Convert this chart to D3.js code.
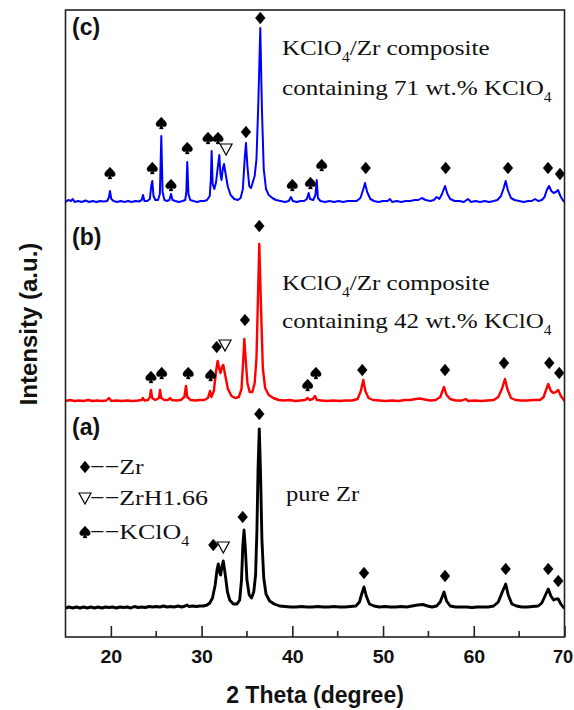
<!DOCTYPE html>
<html><head><meta charset="utf-8">
<script src="https://cdn.jsdelivr.net/npm/d3@7"></script>
<style>body{margin:0;background:#fff;} svg{display:block;}</style>
</head><body><svg id="chart" width="574" height="710"></svg>
<script>
// ---------- DATA (2θ in degrees, intensity in a.u.) ----------
const patternA = [[15.0,2],[15.4,3],[15.8,2],[16.2,3],[16.6,2],[17.0,3],[17.4,2],[17.8,3],[18.2,2],[18.6,3],[19.0,2],[19.4,3],[19.8,2.5],[20.2,3],[20.6,2],[21.0,3],[21.4,2.5],[21.8,3],[22.2,2],[22.6,3.5],[23.0,2.5],[23.4,3],[23.8,2.5],[24.2,3.5],[24.6,3],[25.0,3.5],[25.4,3],[25.8,4],[26.2,3],[26.6,3.5],[27.0,3],[27.4,4],[27.8,3],[28.2,4],[28.4,5],[28.6,3.5],[29.0,4],[29.4,3.5],[29.8,4],[30.2,4],[30.6,5],[30.9,7],[31.2,12],[31.5,25],[31.7,40],[31.84,46],[31.98,38],[32.1,35],[32.25,44],[32.39,49],[32.6,36],[32.85,18],[33.1,10],[33.5,6],[33.9,6],[34.2,10],[34.4,30],[34.55,65],[34.68,80],[34.82,62],[35.0,30],[35.25,15],[35.5,12],[35.75,18],[35.95,35],[36.1,80],[36.22,140],[36.36,181],[36.5,135],[36.65,70],[36.85,32],[37.1,16],[37.5,9],[38.0,6],[38.6,4],[39.2,3.5],[39.8,3],[40.4,3],[41.0,3.5],[41.6,3],[42.2,3],[42.8,3.5],[43.4,3],[44.0,3],[44.6,3.5],[45.2,3],[45.8,3],[46.4,3.5],[47.0,4],[47.4,8],[47.65,16],[47.9,23],[48.15,14],[48.5,6],[49.0,4],[49.6,3],[50.2,3.5],[50.8,3],[51.4,3],[52.0,3.5],[52.6,3],[53.2,4],[53.8,5],[54.4,5.5],[54.9,4],[55.4,3],[55.9,4],[56.3,8],[56.72,18],[57.0,9],[57.4,4],[58.0,3],[58.6,3],[59.2,3],[59.8,2.5],[60.4,3],[61.0,3],[61.6,3],[62.2,4],[62.7,8],[63.1,17],[63.52,26],[63.8,15],[64.2,6],[64.7,4],[65.3,3],[65.9,3],[66.5,3.5],[67.1,4],[67.5,7],[67.9,15],[68.21,21],[68.5,14],[68.8,10],[69.05,11],[69.31,11],[69.6,6],[69.85,3],[70.0,2]];

const patternB = [[15.0,2],[15.5,3],[16.0,2],[16.5,2.5],[17.0,2],[17.5,3],[18.0,2],[18.5,2.5],[19.0,2],[19.5,2.5],[19.79,5],[20.05,2],[20.6,2.5],[21.2,2],[21.8,2.5],[22.4,2],[23.0,2.5],[23.4,3],[23.54,5],[23.7,2.5],[24.1,3],[24.3,6],[24.42,13],[24.55,5],[24.9,3],[25.3,5],[25.42,13],[25.55,5],[25.9,3],[26.3,3],[26.52,5],[26.7,3],[27.2,2.5],[27.7,3],[28.1,6],[28.28,17],[28.42,6],[28.8,3],[29.3,2.5],[29.8,3],[30.3,3],[30.7,5],[30.93,12],[31.08,6],[31.35,12],[31.6,32],[31.77,42],[31.95,34],[32.08,30],[32.25,36],[32.39,38],[32.6,28],[32.9,14],[33.3,7],[33.7,5],[34.1,6],[34.4,14],[34.6,45],[34.71,64],[34.85,45],[35.05,20],[35.3,11],[35.6,11],[35.85,20],[36.05,45],[36.2,100],[36.36,159],[36.55,95],[36.75,35],[37.0,15],[37.4,8],[37.9,5],[38.5,3],[39.1,2.5],[39.7,3],[40.3,2],[40.9,2.5],[41.4,3],[41.69,5],[41.9,3],[42.25,4],[42.5,7],[42.7,3],[43.2,2.5],[43.8,2],[44.5,2.5],[45.2,2],[45.9,2.5],[46.6,2.5],[47.2,4],[47.55,12],[47.82,23],[48.05,12],[48.4,5],[48.9,3],[49.6,2.5],[50.3,2],[51.0,2.5],[51.7,2],[52.4,3],[53.0,3],[53.6,4],[54.07,4.5],[54.6,3.5],[55.2,2.5],[55.8,3],[56.3,6],[56.72,16],[57.0,8],[57.4,4],[58.0,2.5],[58.7,2.5],[59.11,4],[59.4,2],[60.1,2.5],[60.8,2],[61.5,2.5],[62.2,3],[62.7,6],[63.1,14],[63.44,24],[63.7,14],[64.1,5],[64.6,3],[65.2,2.5],[65.9,2.5],[66.6,3],[67.3,3],[67.7,6],[68.0,14],[68.21,19],[68.5,12],[68.8,10],[69.05,11],[69.31,13],[69.6,7],[69.85,4],[70.0,2]];

const patternC = [[15.0,2],[15.3,4],[15.6,3],[15.8,5],[16.0,2],[16.4,3],[16.8,2],[17.2,3.5],[17.6,2],[18.0,3],[18.4,2],[18.8,3],[19.2,2.5],[19.6,3],[19.8,7],[19.9,13],[20.05,5],[20.3,3],[20.7,2],[21.1,3],[21.5,2],[21.9,3],[22.3,2],[22.7,3],[23.1,2.5],[23.4,4],[23.54,9],[23.7,3],[24.0,3],[24.3,5],[24.45,18],[24.57,23],[24.7,8],[24.9,4],[25.2,4],[25.4,10],[25.56,68],[25.7,12],[25.9,4],[26.2,3],[26.45,4],[26.63,10],[26.8,4],[27.1,3],[27.5,2],[27.9,3],[28.2,4],[28.32,12],[28.42,42],[28.55,10],[28.75,4],[29.1,3],[29.5,2],[29.9,3],[30.3,3],[30.6,4],[30.9,8],[31.02,25],[31.11,53],[31.22,20],[31.4,15],[31.6,22],[31.8,38],[31.95,49],[32.08,30],[32.2,24],[32.35,36],[32.47,40],[32.65,30],[32.9,17],[33.2,9],[33.6,5],[34.0,4],[34.3,6],[34.55,15],[34.75,45],[34.89,61],[35.05,38],[35.25,18],[35.45,16],[35.65,22],[35.85,28],[36.05,45],[36.25,100],[36.47,176],[36.65,95],[36.85,35],[37.1,15],[37.4,9],[37.8,6],[38.2,4],[38.7,3],[39.2,2],[39.6,3],[39.85,7],[40.05,3],[40.5,2],[40.9,3],[41.3,3],[41.6,5],[41.8,11],[41.95,5],[42.3,4],[42.55,9],[42.69,24],[42.82,6],[43.1,3],[43.6,2],[44.1,3],[44.6,2],[45.1,3],[45.6,2],[46.1,3],[46.6,3],[47.1,3],[47.5,6],[47.8,14],[48.01,21],[48.25,12],[48.6,5],[49.0,3],[49.5,2],[50.0,3],[50.5,3],[50.76,5],[51.0,2],[51.5,3],[52.0,2],[52.5,3],[53.0,3],[53.5,4],[53.9,4],[54.26,6],[54.7,4],[55.2,3],[55.6,4],[55.91,7],[56.2,5],[56.5,10],[56.83,18],[57.1,10],[57.4,5],[57.9,3],[58.4,3],[58.9,2],[59.36,5],[59.7,2],[60.2,3],[60.7,2],[61.2,3],[61.7,2],[62.2,3],[62.6,4],[63.0,8],[63.3,16],[63.52,23],[63.75,14],[64.1,6],[64.5,4],[65.0,3],[65.5,2],[66.0,3],[66.4,3],[66.75,5],[67.1,3],[67.5,4],[67.8,7],[68.05,14],[68.29,18],[68.55,13],[68.8,11],[69.05,12],[69.28,14],[69.55,8],[69.8,4],[70.0,2]];

// phase markers: [phase, 2θ, intensity level]
const markersA = [["Zr",31.29,65],["ZrH",32.39,63],["Zr",34.53,93],["Zr",36.36,196],["Zr",47.9,37],["Zr",56.83,34],["Zr",63.52,41],["Zr",68.21,41],["Zr",69.31,29]];
const markersB = [["K",24.42,26],["K",25.6,30],["K",28.53,30],["K",31.0,28],["Zr",31.66,56],["ZrH",32.58,58],["Zr",34.78,83],["Zr",36.36,177],["K",41.69,18],["K",42.6,30],["Zr",47.71,33],["Zr",56.83,33],["Zr",63.33,40],["Zr",68.32,40],["Zr",69.42,30]];
const markersC = [["K",19.9,31],["K",24.57,36],["K",25.56,81],["K",26.63,19],["K",28.42,56],["K",30.71,66],["K",31.81,66],["ZrH",32.7,55],["Zr",34.89,72],["Zr",36.47,186],["K",40.0,19],["K",42.0,21],["K",43.24,39],["Zr",48.09,36],["Zr",56.9,36],["Zr",63.77,36],["Zr",68.18,36],["Zr",69.5,30]];

const xTicks = [20,30,40,50,60,70];
const xMinorTicks = [25,35,45,55,65];
const legendItems = [["Zr","Zr"],["ZrH","ZrH1.66"],["K","KClO"]];

// ---------- LAYOUT ----------
const svg = d3.select("#chart");
const L = 65.5, R = 564.5, T = 10, B = 637;
const x = d3.scaleLinear().domain([15,70]).range([L,R]);
const y = d3.scaleLinear().domain([0,627]).range([B,T]);
const SANS = "'Liberation Sans', Arial, sans-serif";
const SERIF = "'Liberation Serif', 'Times New Roman', serif";

const series = [
  {data: patternA, offset: 27, color: "#000000", width: 2.9, markers: markersA},
  {data: patternB, offset: 234, color: "#ff0000", width: 2.4, markers: markersB},
  {data: patternC, offset: 433, color: "#0000ff", width: 2.0, markers: markersC}
];

svg.append("clipPath").attr("id","clip").append("rect")
  .attr("x",L).attr("y",T).attr("width",R-L).attr("height",B-T);

const line = d3.line().curve(d3.curveLinear);
series.forEach(s => {
  svg.append("path")
    .attr("clip-path","url(#clip)")
    .attr("fill","none").attr("stroke",s.color).attr("stroke-width",s.width)
    .attr("stroke-linejoin","round")
    .attr("d", line(s.data.map(d => [x(d[0]), y(s.offset + d[1])])));
});

// marker shapes
const diamond = {draw(c){c.moveTo(0,-6);c.lineTo(5,0);c.lineTo(0,6);c.lineTo(-5,0);c.closePath();}};
const triDown = {draw(c){c.moveTo(-6,-5);c.lineTo(6,-5);c.lineTo(0,6);c.closePath();}};
const spade = {draw(c){
  c.moveTo(0,-6);
  c.bezierCurveTo(2,-3,6.2,-1,5.2,2);
  c.bezierCurveTo(4.5,4.2,2,4.2,0.9,2.4);
  c.lineTo(2,6);c.lineTo(-2,6);c.lineTo(-0.9,2.4);
  c.bezierCurveTo(-2,4.2,-4.5,4.2,-5.2,2);
  c.bezierCurveTo(-6.2,-1,-2,-3,0,-6);
  c.closePath();}};
const shapeOf = {Zr: diamond, ZrH: triDown, K: spade};
function drawMarker(g, type, cx, cy){
  g.append("path")
    .attr("transform",`translate(${cx},${cy})`)
    .attr("d", d3.symbol().type(shapeOf[type])())
    .attr("fill", type === "ZrH" ? "#fff" : "#000")
    .attr("stroke","#000").attr("stroke-width", type === "ZrH" ? 1.2 : 0.3);
}
const mg = svg.append("g");
series.forEach(s => s.markers.forEach(m => drawMarker(mg, m[0], x(m[1]), y(s.offset + m[2]))));

// frame
svg.append("rect").attr("x",L).attr("y",T).attr("width",R-L).attr("height",B-T)
  .attr("fill","none").attr("stroke","#222").attr("stroke-width",1.6);

// x axis (ticks inward)
const axis = svg.append("g").attr("transform",`translate(0,${B})`)
  .call(d3.axisBottom(x).tickValues(xTicks).tickSize(-11).tickPadding(0).tickFormat(d3.format("d")));
axis.select(".domain").remove();
axis.selectAll(".tick line").attr("stroke","#222").attr("stroke-width",1.6);
axis.selectAll(".tick text").remove();
axis.selectAll(".tick").append("text")
  .attr("y",26).attr("text-anchor","middle")
  .attr("transform",(d,i,n) => i === n.length - 1 ? "translate(-2,0) scale(1.04,1)" : "scale(1.12,1)")
  .attr("font-family",SANS).attr("font-weight","bold").attr("font-size",17.5).attr("fill","#111")
  .text(d => d);
svg.append("g").selectAll("line").data(xMinorTicks).join("line")
  .attr("x1",d=>x(d)).attr("x2",d=>x(d)).attr("y1",B).attr("y2",B-6)
  .attr("stroke","#222").attr("stroke-width",1.6);

// axis titles
svg.append("text").attr("x",x(42.5)).attr("y",703).attr("text-anchor","middle")
  .attr("font-family",SANS).attr("font-weight","bold").attr("font-size",23).attr("fill","#111")
  .text("2 Theta (degree)");
svg.append("text").attr("transform","translate(37,324) rotate(-90)").attr("text-anchor","middle")
  .attr("font-family",SANS).attr("font-weight","bold").attr("font-size",24).attr("fill","#111")
  .text("Intensity (a.u.)");

// panel labels
[["(c)",35],["(b)",245],["(a)",435]].forEach(p => {
  svg.append("text").attr("x",72).attr("y",p[1])
    .attr("font-family",SANS).attr("font-weight","bold").attr("font-size",23).attr("fill","#111")
    .text(p[0]);
});

// serif annotations with subscripts
function serifText(px, py, parts, size, sx){
  const t = svg.append("text").attr("transform",`translate(${px},${py}) scale(${sx},1)`)
    .attr("font-family",SERIF).attr("font-size",size).attr("fill","#111");
  parts.forEach(p => {
    if (p.sub) t.append("tspan").attr("dy",7).attr("font-size",size*0.62).text(p.t);
    else if (p.after) t.append("tspan").attr("dy",-7).text(p.t);
    else t.append("tspan").text(p.t);
  });
  return t;
}
serifText(282, 55, [{t:"KClO"},{t:"4",sub:true},{t:"/Zr composite",after:true}], 22, 1.14);
serifText(282, 95, [{t:"containing 71 wt.% KClO"},{t:"4",sub:true}], 22, 1.14);
serifText(282, 290, [{t:"KClO"},{t:"4",sub:true},{t:"/Zr composite",after:true}], 22, 1.14);
serifText(282, 328, [{t:"containing 42 wt.% KClO"},{t:"4",sub:true}], 22, 1.14);
serifText(286, 501, [{t:"pure Zr"}], 22, 1.12);

// legend
const legY = [467, 498, 532];
legendItems.forEach((it, i) => {
  drawMarker(svg, it[0], 85, legY[i]);
  const parts = [{t:"\u2212\u2212" + it[1]}];
  if (it[0] === "K") parts.push({t:"4", sub:true});
  serifText(90, legY[i] + 7, parts, 22, 1.18);
});
</script></body></html>
